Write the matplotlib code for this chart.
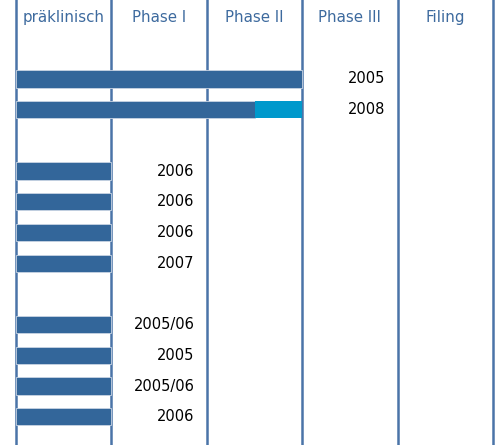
import matplotlib
matplotlib.use("Agg")
import matplotlib.pyplot as plt

# column headers (phases)
phases = ["präklinisch", "Phase I", "Phase II", "Phase III", "Filing"]

# rows: position, dark bar length (in phases), light part length, label
rows = [0, 1, 3, 4, 5, 6, 8, 9, 10, 11]
dark = [3.0, 2.5, 1.0, 1.0, 1.0, 1.0, 1.0, 1.0, 1.0, 1.0]
light = [0.0, 0.5, 0, 0, 0, 0, 0, 0, 0, 0]
labels = ["2005", "2008", "2006", "2006", "2006", "2007",
          "2005/06", "2005", "2005/06", "2006"]

dark_col = "#33669a"
light_col = "#0099cc"
line_col = "#4a74a8"

fig = plt.figure(figsize=(4.95, 4.45), dpi=100)
ax = fig.add_axes([0, 0, 1, 1])

ax.barh(rows, dark, height=0.56, color=dark_col, edgecolor="#c8d4e3", linewidth=0.6, zorder=3)
ax.barh(rows, light, left=dark, height=0.56, color=light_col, linewidth=0, zorder=3)

# vertical separators between phases
for i in range(len(phases) + 1):
    ax.axvline(i, color=line_col, lw=1.8, zorder=2)

for i, p in enumerate(phases):
    ax.text(i + 0.5, -2.0, p, ha="center", va="center", color="#3d6a9e", fontsize=10.8)

for r, d, l, lab in zip(rows, dark, light, labels):
    ax.text(d + l + 0.87, r, lab, ha="right", va="center", color="black", fontsize=10.5)

ax.set_xlim(-0.168, 5.021)
ax.set_ylim(11.92, -2.57)
ax.axis("off")

fig.savefig("out.png", dpi=100)
